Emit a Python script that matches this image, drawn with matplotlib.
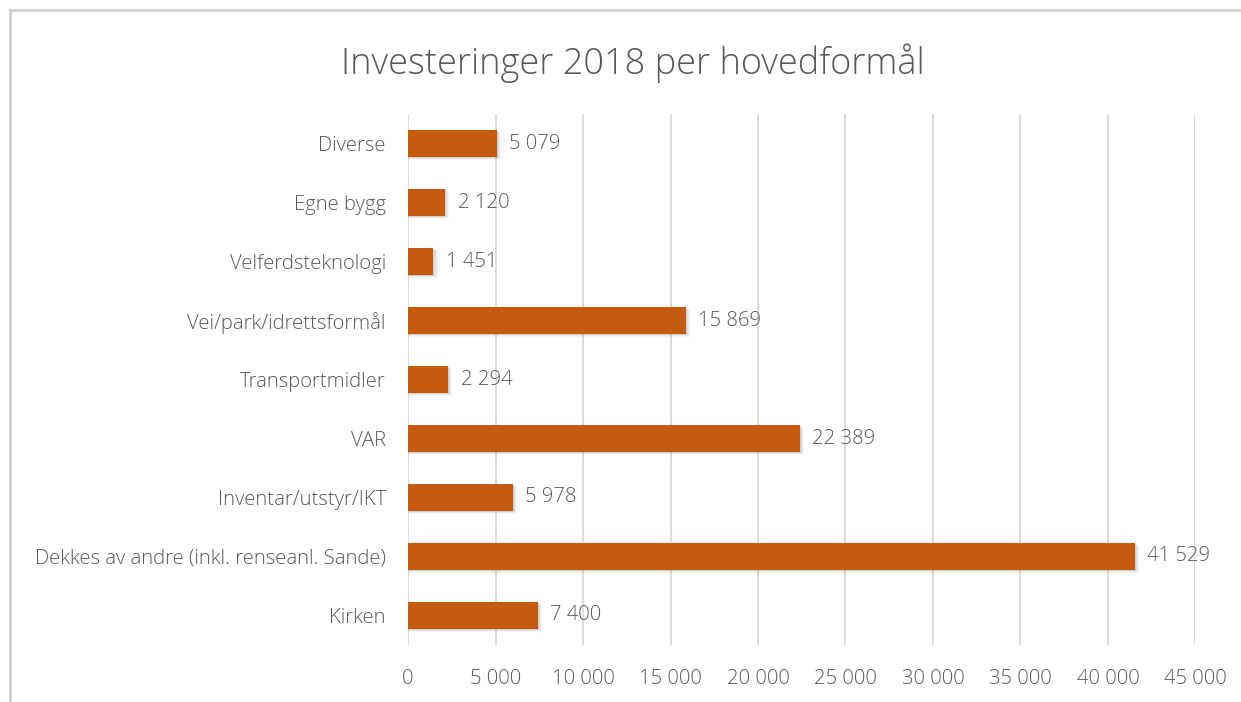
import matplotlib
matplotlib.use("Agg")
import matplotlib.pyplot as plt
from matplotlib.lines import Line2D

categories = ["Kirken", "Dekkes av andre (inkl. renseanl. Sande)", "Inventar/utstyr/IKT",
              "VAR", "Transportmidler", "Vei/park/idrettsformål", "Velferdsteknologi",
              "Egne bygg", "Diverse"]
values = [7400, 41529, 5978, 22389, 2294, 15869, 1451, 2120, 5079]
xticks = [0, 5000, 10000, 15000, 20000, 25000, 30000, 35000, 40000, 45000]

plt.rcParams['font.family'] = ['Open Sans', 'DejaVu Sans']
text_col = '#595959'
bar_col = '#C55A11'
fs = 14.6

def fmt(v):
    return f"{v:,}".replace(",", " ")

fig = plt.figure(figsize=(12.41, 7.02), dpi=100)
ax = fig.add_axes([0.3288, 0.0812, 0.6345, 0.7564])

ypos = list(range(len(categories)))
h = 0.46

# soft shadow under the bars
for k, a in [(1, 0.10), (2, 0.08), (3, 0.06), (4, 0.04)]:
    ax.barh([y - 0.012 * k for y in ypos], [v + 60 * k for v in values], height=h,
            color='#404040', alpha=a, zorder=2, linewidth=0)
ax.barh(ypos, values, height=h, color=bar_col, zorder=3, linewidth=0)

for y, v in zip(ypos, values):
    ax.annotate(fmt(v), (v, y), xytext=(9, 0), textcoords='offset points',
                va='center', ha='left', fontsize=fs, color=text_col, fontweight='light')

ax.set_xlim(0, 45000)
ax.set_ylim(-0.5, len(categories) - 0.5)
ax.set_xticks(xticks)
ax.set_xticklabels([fmt(t) for t in xticks], fontsize=fs, color=text_col, fontweight='light')
ax.set_yticks(ypos)
ax.set_yticklabels(categories, fontsize=fs, color=text_col, fontweight='light')
ax.tick_params(length=0, pad=17, axis='x')
ax.tick_params(length=0, pad=16, axis='y')
ax.grid(axis='x', color='#D9D9D9', linewidth=1.3, zorder=0)
ax.set_axisbelow(True)
for s in ax.spines.values():
    s.set_visible(False)

fig.text(0.51, 0.91, "Investeringer 2018 per hovedformål", ha='center', va='center',
         fontsize=26, color=text_col, fontweight='light')

# chart frame (top and left edges visible)
fig.add_artist(Line2D([10 / 1241, 10 / 1241], [0, 1 - 10 / 702], transform=fig.transFigure,
                      color='#D0D0D0', linewidth=2))
fig.add_artist(Line2D([10 / 1241, 1], [1 - 10 / 702, 1 - 10 / 702], transform=fig.transFigure,
                      color='#D0D0D0', linewidth=2))

fig.savefig("out.png", dpi=100)
